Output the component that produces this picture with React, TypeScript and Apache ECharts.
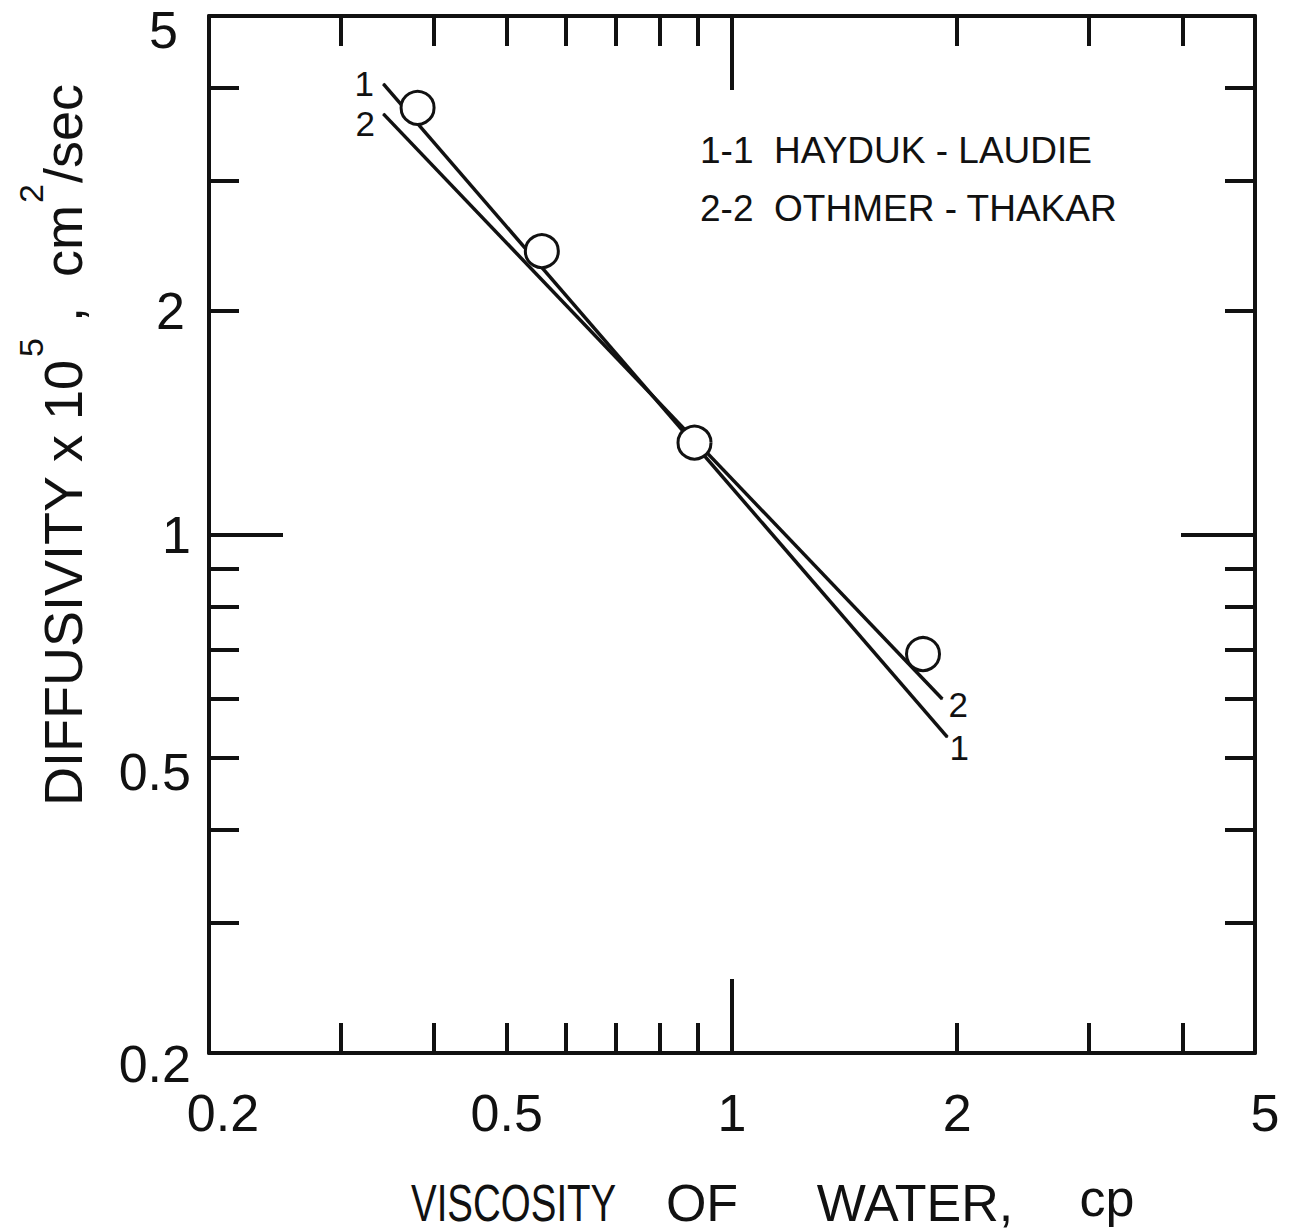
import React, { useEffect, useRef } from "react";
import * as echarts from "echarts";

// Log-log axes, both running 0.2 .. 5
const axisMin = 0.2;
const axisMax = 5;

// Tick values
const minorTicks = [0.3, 0.4, 0.5, 0.6, 0.7, 0.8, 0.9, 2, 3, 4];
const majorTicks = [1];
const xTickLabels = [0.2, 0.5, 1, 2, 5];
const yTickLabels = [0.2, 0.5, 1, 2, 5];

// Measured diffusivities (x 1e5, cm2/sec) against water viscosity (cp)
const viscosity = [0.38, 0.557, 0.891, 1.8];
const diffusivity = [3.76, 2.41, 1.33, 0.69];

// Correlation lines, drawn between their end points
const haydukViscosity = [0.342, 1.94];
const haydukDiffusivity = [4.05, 0.533];
const othmerViscosity = [0.342, 1.91];
const othmerDiffusivity = [3.69, 0.6];

const haydukTag = "1";
const othmerTag = "2";
const legendRows = ["1-1  HAYDUK - LAUDIE", "2-2  OTHMER - THAKAR"];
const xTitleWords = ["VISCOSITY", "OF", "WATER,", "cp"];
// y title pieces: [text, isSuperscript]
const yTitlePieces: [string, boolean][] = [
  ["DIFFUSIVITY x 10", false],
  ["5", true],
  [" ,  cm", false],
  ["2", true],
  ["/sec", false],
];

const FONT = '"Liberation Sans", Arial, Helvetica, sans-serif';
const INK = "#111";

// Per-label nudges for the hand-lettered tick numbers
const xLabelRich: Record<string, any> = {
  p02: { padding: [0, 0, 0, 28] },
  p05: {},
  p1: {},
  p2: {},
  p5: { padding: [0, 0, 0, 20] },
};
const yLabelRich: Record<string, any> = {
  p02: { padding: [22, 0, 0, 0] },
  p05: { padding: [28, 0, 0, 0] },
  p1: {},
  p2: { padding: [0, 6, 0, 0] },
  p5: { padding: [28, 13, 0, 0] },
};

const labelKey = (v: number) => "p" + String(Math.round(v * 10) / 10).replace(".", "");

function withFont(rich: Record<string, any>) {
  const out: Record<string, any> = {};
  Object.keys(rich).forEach((k) => {
    out[k] = { fontSize: 52, fontFamily: FONT, color: INK, ...rich[k] };
  });
  return out;
}

function logAxis(position: string, ticks: number[], tickLen: number, frame: boolean, label?: any) {
  return {
    type: "log",
    logBase: 10,
    min: axisMin,
    max: axisMax,
    position,
    silent: true,
    axisLine: { show: frame, onZero: false, lineStyle: { color: INK, width: 4 } },
    axisTick: {
      show: true,
      inside: true,
      length: tickLen,
      customValues: ticks,
      lineStyle: { color: INK, width: 4 },
    },
    axisLabel: label || { show: false },
    splitLine: { show: false },
    minorTick: { show: false },
    minorSplitLine: { show: false },
  };
}

const MINOR = 30;
const MAJOR = 74;

const xLabel = {
  show: true,
  customValues: xTickLabels,
  margin: 34,
  showMinLabel: true,
  showMaxLabel: true,
  hideOverlap: false,
  formatter: (v: number) => `{${labelKey(v)}|${Math.round(v * 10) / 10}}`,
  rich: withFont(xLabelRich),
};
const yLabel = {
  show: true,
  customValues: yTickLabels,
  margin: 18,
  showMinLabel: true,
  showMaxLabel: true,
  hideOverlap: false,
  formatter: (v: number) => `{${labelKey(v)}|${Math.round(v * 10) / 10}}`,
  rich: withFont(yLabelRich),
};

function lineSeries(name: string, xs: number[], ys: number[], tag: string, offsets: number[][]) {
  return {
    type: "line",
    name,
    silent: true,
    data: xs.map((x, i) => ({
      value: [x, ys[i]],
      label: { offset: offsets[i] },
    })),
    showSymbol: true,
    symbol: "circle",
    symbolSize: 1,
    itemStyle: { color: INK },
    lineStyle: { color: INK, width: 3.5 },
    label: {
      show: true,
      position: "inside",
      formatter: tag,
      fontSize: 35,
      fontFamily: FONT,
      color: INK,
    },
    emphasis: { disabled: true },
    z: 2,
  };
}

const titleText = (text: string, x: number, y: number, extra: any = {}) => ({
  type: "text",
  x,
  y,
  silent: true,
  ...extra,
  style: {
    text,
    font: `52px ${FONT}`,
    fill: INK,
    align: extra.align || "center",
    verticalAlign: "middle",
  },
});

// Rotated y title: pieces laid out along the baseline, superscripts raised
function yTitleGroup() {
  const mainSize = 54;
  const supSize = 34;
  const ctx = document.createElement("canvas").getContext("2d")!;
  const widthOf = (t: string, size: number) => {
    ctx.font = `${size}px "Liberation Sans"`;
    return ctx.measureText(t).width;
  };
  const widths = yTitlePieces.map(([t, sup]) => widthOf(t, sup ? supSize : mainSize) + (sup ? 3 : 0));
  const total = widths.reduce((a, b) => a + b, 0);
  let cursor = -total / 2;
  const children = yTitlePieces.map(([t, sup], i) => {
    const el = {
      type: "text",
      x: cursor + (sup ? 2 : 0),
      y: sup ? -32 : 0,
      silent: true,
      style: {
        text: t,
        font: `${sup ? supSize : mainSize}px ${FONT}`,
        fill: INK,
        align: "left",
        verticalAlign: "middle",
      },
    };
    cursor += widths[i];
    return el;
  });
  return { type: "group", x: 63, y: 445, rotation: Math.PI / 2, silent: true, children };
}

function buildOption() {
  return {
    animation: false,
    backgroundColor: "#fff",
    grid: { left: 209, top: 16, right: 37, bottom: 178, containLabel: false },
    xAxis: [
      logAxis("bottom", minorTicks, MINOR, true, xLabel),
      logAxis("top", minorTicks, MINOR, true),
      logAxis("bottom", majorTicks, MAJOR, false),
      logAxis("top", majorTicks, MAJOR, false),
    ],
    yAxis: [
      logAxis("left", minorTicks, MINOR, true, yLabel),
      logAxis("right", minorTicks, MINOR, true),
      logAxis("left", majorTicks, MAJOR, false),
      logAxis("right", majorTicks, MAJOR, false),
    ],
    series: [
      lineSeries("HAYDUK - LAUDIE", haydukViscosity, haydukDiffusivity, haydukTag, [
        [-19, 0],
        [12, 10],
      ]),
      lineSeries("OTHMER - THAKAR", othmerViscosity, othmerDiffusivity, othmerTag, [
        [-18, 10],
        [16, 5],
      ]),
      {
        type: "scatter",
        silent: true,
        data: viscosity.map((v, i) => [v, diffusivity[i]]),
        symbol: "circle",
        symbolSize: 33,
        itemStyle: { color: "#fff", borderColor: INK, borderWidth: 3, opacity: 1 },
        emphasis: { disabled: true },
        z: 3,
      },
    ],
    graphic: [
      yTitleGroup(),
      // x-axis title, lettered word by word
      titleText(xTitleWords[0], 411, 1203, { scaleX: 0.74, align: "left" }),
      titleText(xTitleWords[1], 702, 1203),
      titleText(xTitleWords[2], 915, 1203),
      titleText(xTitleWords[3], 1107, 1198),
      // line key
      {
        type: "text",
        x: 700,
        y: 150,
        silent: true,
        style: { text: legendRows[0], font: `37px ${FONT}`, fill: INK, align: "left", verticalAlign: "middle" },
      },
      {
        type: "text",
        x: 700,
        y: 208,
        silent: true,
        style: { text: legendRows[1], font: `37px ${FONT}`, fill: INK, align: "left", verticalAlign: "middle" },
      },
    ],
  };
}

export default function App() {
  const ref = useRef<HTMLDivElement>(null);
  useEffect(() => {
    if (!ref.current) return;
    const chart = echarts.init(ref.current, null, { renderer: "svg" });
    chart.setOption(buildOption() as any);
    return () => chart.dispose();
  }, []);
  return (
    <div
      ref={ref}
      style={{ position: "fixed", left: 0, top: 0, width: 1292, height: 1231, background: "#fff" }}
    />
  );
}
